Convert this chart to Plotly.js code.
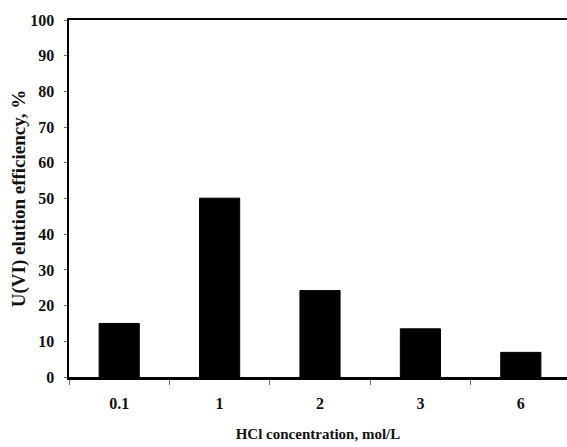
<!DOCTYPE html>
<html>
<head>
<meta charset="utf-8">
<script src="https://cdn.plot.ly/plotly-3.0.1.min.js"></script>
<style>html,body{margin:0;padding:0;background:#fff;}#chart{width:567px;height:447px;}</style>
</head>
<body>
<div id="chart"></div>
<script>
const categories = ["0.1", "1", "2", "3", "6"];
const efficiency = [15.0, 50.1, 24.2, 13.5, 6.9];
const yTickValues = [0, 10, 20, 30, 40, 50, 60, 70, 80, 90, 100];

const fam = "Liberation Serif, Times New Roman, serif";

Plotly.newPlot("chart", [{
  type: "bar",
  x: categories,
  y: efficiency,
  width: 0.4,
  marker: {color: "#000", line: {color: "#000", width: 1}},
  hoverinfo: "none"
}], {
  width: 567,
  height: 447,
  margin: {l: 69, r: 0, t: 20, b: 70},
  paper_bgcolor: "#fff",
  plot_bgcolor: "#fff",
  showlegend: false,
  font: {family: fam, color: "#000", size: 16, weight: "bold"},
  xaxis: {
    type: "category",
    range: [-0.5, 4.46],
    showline: true, linecolor: "#000", linewidth: 2.5, mirror: true,
    ticks: "outside", tickson: "boundaries", ticklen: 5, tickcolor: "#666", tickwidth: 1,
    showgrid: false, zeroline: false,
    tickfont: {family: fam, size: 16, weight: "bold", color: "#111"},
    ticklabelstandoff: 10,
    title: {text: "HCl concentration, mol/L", font: {family: fam, size: 15, weight: "bold", color: "#111"}, standoff: 18}
  },
  yaxis: {
    range: [0, 100],
    tickvals: yTickValues,
    showline: true, linecolor: "#000", linewidth: 2.5,
    ticks: "outside", ticklen: 3, tickcolor: "#666", tickwidth: 1,
    showgrid: false, zeroline: false,
    tickfont: {family: fam, size: 16, weight: "bold", color: "#111"},
    ticklabelstandoff: 6,
    title: {text: "U(VI) elution efficiency, %", font: {family: fam, size: 19, weight: "bold", color: "#111"}, standoff: 0}
  }
}, {displayModeBar: false, staticPlot: true});
</script>
</body>
</html>
